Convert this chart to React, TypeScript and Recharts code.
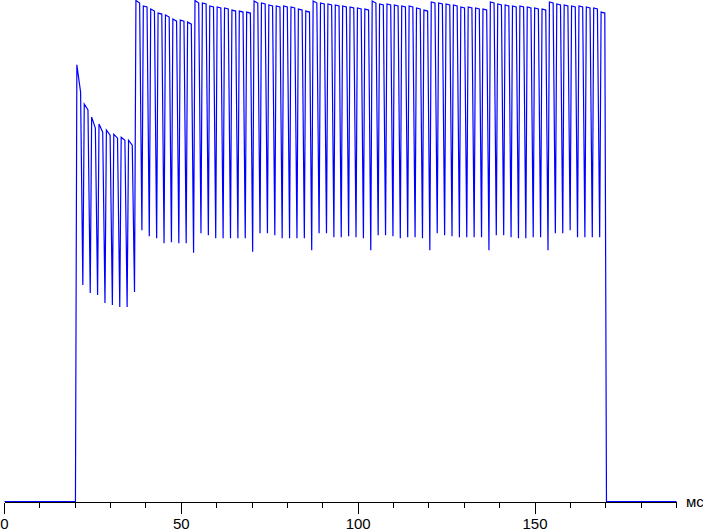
import { LineChart, Line, XAxis, YAxis } from "recharts"

// pulse start times, ms (rise from previous trough)
const pulseStart = [
  20.06, 22.15, 24.24, 26.32, 28.41, 30.5, 32.59, 34.67,
  36.76, 38.85, 40.94, 43.02, 45.11, 47.2, 49.29, 51.37,
  53.46, 55.55, 57.64, 59.72, 61.81, 63.9, 65.99, 68.07,
  70.16, 72.25, 74.34, 76.43, 78.51, 80.6, 82.69, 84.78,
  86.86, 88.95, 91.04, 93.13, 95.21, 97.3, 99.39, 101.48,
  103.56, 105.65, 107.74, 109.83, 111.91, 114.0, 116.09, 118.18,
  120.26, 122.35, 124.44, 126.53, 128.62, 130.7, 132.79, 134.88,
  136.97, 139.05, 141.14, 143.23, 145.32, 147.4, 149.49, 151.58,
  153.67, 155.75, 157.84, 159.93, 162.02, 164.1, 166.19, 168.28,
]

// top of each pulse, start of plateau
const pulsePeak = [
  87.1, 79.3, 76.7, 75.3, 74.1, 73.3, 72.7, 72.1,
  99.9, 98.8, 98.2, 97.4, 97.0, 96.2, 96.0, 95.6,
  99.9, 99.4, 98.8, 98.6, 98.4, 98.0, 97.8, 97.6,
  99.8, 99.4, 99.0, 98.8, 98.8, 98.6, 98.2, 97.8,
  99.8, 99.4, 99.2, 99.0, 98.8, 98.6, 98.4, 98.2,
  99.8, 99.2, 99.2, 99.0, 98.8, 98.8, 98.4, 98.0,
  99.6, 99.4, 99.2, 99.0, 98.6, 98.6, 98.4, 98.2,
  99.6, 99.2, 99.0, 98.8, 98.8, 98.6, 98.4, 98.2,
  99.6, 99.2, 99.0, 98.8, 98.8, 98.6, 98.4, 97.6,
]

// end of plateau, just before the fall
const pulseTopEnd = [
  81.7, 78.1, 74.5, 73.7, 73.1, 72.5, 72.1, 71.1,
  99.4, 98.6, 97.8, 97.2, 96.6, 95.8, 95.8, 95.2,
  99.4, 99.2, 98.6, 98.4, 98.2, 97.8, 97.6, 97.4,
  99.4, 99.2, 98.8, 98.6, 98.6, 98.4, 98.0, 97.6,
  99.4, 99.2, 99.0, 98.8, 98.6, 98.4, 98.2, 98.0,
  99.4, 99.0, 99.0, 98.8, 98.6, 98.6, 98.2, 97.8,
  99.4, 99.2, 99.0, 98.8, 98.4, 98.4, 98.2, 98.0,
  99.4, 99.0, 98.8, 98.6, 98.6, 98.4, 98.2, 98.0,
  99.4, 99.0, 98.8, 98.6, 98.6, 98.4, 98.2, 97.4,
]

// bottom after each pulse (the last one falls to the baseline)
const pulseTrough = [
  43.3, 41.7, 41.3, 39.7, 39.3, 38.9, 38.9, 41.9,
  54.2, 53.0, 52.6, 51.6, 51.8, 51.6, 51.6, 49.7,
  53.6, 53.2, 52.6, 52.6, 52.6, 52.6, 52.6, 49.9,
  53.6, 53.6, 53.2, 52.6, 52.6, 52.6, 52.6, 50.2,
  53.6, 53.6, 52.8, 52.8, 53.0, 52.8, 52.6, 50.2,
  53.2, 53.2, 53.0, 52.6, 52.8, 52.8, 52.6, 50.2,
  53.6, 53.2, 53.0, 52.8, 52.8, 52.8, 52.8, 50.2,
  53.2, 53.2, 52.8, 52.6, 52.6, 52.8, 52.8, 50.2,
  53.6, 53.6, 54.2, 52.8, 52.8, 52.8, 52.8,
]

const baseline = 0.2
const signalOff = 170.2
const xMax = 190
const xTicks = [0, 10, 20, 30, 40, 50, 60, 70, 80, 90, 100, 110, 120, 130, 140, 150, 160, 170, 180, 190]
const xLabels = [0, 50, 100, 150]

// sample offsets inside one pulse, ms
const peakAt = 0.4
const plateauEndAt = 1.45

function buildSeries() {
  const pts: { t: number; v: number }[] = [{ t: 0, v: baseline }]
  pulseStart.forEach((t0, i) => {
    pts.push({ t: t0, v: i === 0 ? baseline : pulseTrough[i - 1] })
    pts.push({ t: t0 + peakAt, v: pulsePeak[i] })
    pts.push({ t: t0 + plateauEndAt, v: pulseTopEnd[i] })
  })
  pts.push({ t: signalOff, v: baseline })
  pts.push({ t: xMax, v: baseline })
  return pts
}

const series = buildSeries()

function AxisTick({ x, y, payload }: any) {
  const major = xLabels.includes(payload.value)
  const px = Math.floor(x) + 0.5
  return (
    <g>
      <line
        x1={px}
        x2={px}
        y1={y}
        y2={y + (major ? 11 : 5)}
        stroke="#000"
        strokeWidth={1}
        shapeRendering="crispEdges"
      />
      {major && (
        <text
          x={x}
          y={529}
          textAnchor="middle"
          fontFamily="'Liberation Sans', Arial, sans-serif"
          fontSize={15}
          fill="#000"
        >
          {payload.value}
        </text>
      )}
    </g>
  )
}

export default function App() {
  return (
    <div style={{ width: 703, height: 530, background: "#fff" }}>
      <style>{"body{margin:0;background:#fff}"}</style>
      <LineChart
        width={703}
        height={530}
        data={series}
        margin={{ top: 0, right: 26.5, bottom: 0, left: 4.5 }}
      >
        <XAxis
          dataKey="t"
          type="number"
          domain={[0, xMax]}
          ticks={xTicks}
          interval={0}
          height={27.5}
          axisLine={{ stroke: "#000", strokeWidth: 1, shapeRendering: "crispEdges" }}
          tickLine={false}
          tickSize={0}
          tickMargin={0}
          tick={(props: any) => <AxisTick {...props} />}
        />
        <YAxis hide width={0} domain={[0, 100]} allowDataOverflow />
        <Line
          type="linear"
          dataKey="v"
          stroke="#0000ff"
          strokeWidth={1.2}
          dot={false}
          isAnimationActive={false}
        />
        <text
          x={686}
          y={507}
          fontFamily="'Liberation Sans', Arial, sans-serif"
          fontSize={15}
          fill="#000"
        >
          мс
        </text>
      </LineChart>
    </div>
  )
}
